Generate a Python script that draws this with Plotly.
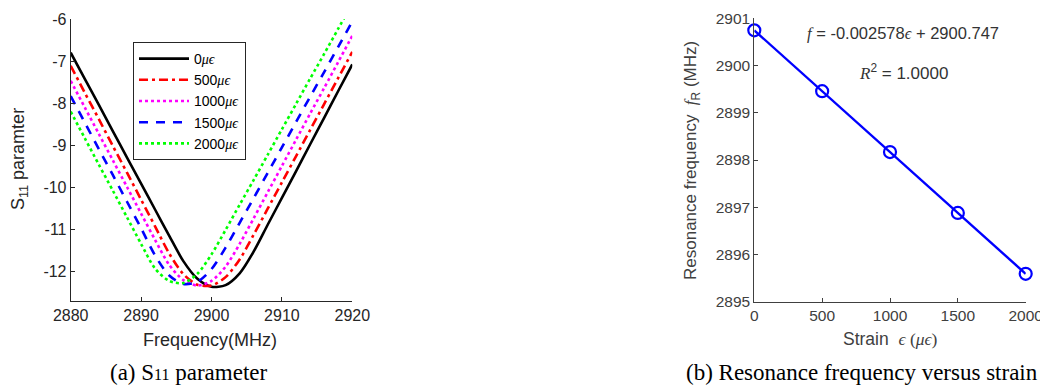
import plotly.graph_objects as go

# ---------------- data: (a) S11 curves ----------------
freq = [2880, 2882, 2884, 2886, 2888, 2890, 2892, 2894, 2896, 2898, 2900,
        2902, 2904, 2906, 2908, 2910, 2912, 2914, 2916, 2918, 2920]
s11_0 = [-6.80, -7.42, -8.04, -8.67, -9.29, -9.91, -10.53, -11.15, -11.75, -12.17, -12.36,
         -12.32, -12.04, -11.52, -10.88, -10.25, -9.62, -8.98, -8.35, -7.71, -7.08]
s11_500 = [-7.11, -7.75, -8.38, -9.02, -9.65, -10.29, -10.93, -11.57, -12.06, -12.31, -12.33,
           -12.13, -11.71, -11.12, -10.50, -9.88, -9.26, -8.64, -8.02, -7.40, -6.78]
s11_1000 = [-7.47, -8.10, -8.73, -9.36, -9.99, -10.62, -11.25, -11.84, -12.20, -12.33, -12.22,
            -11.88, -11.34, -10.73, -10.11, -9.49, -8.87, -8.25, -7.64, -7.02, -6.40]
s11_1500 = [-7.83, -8.46, -9.09, -9.71, -10.34, -10.97, -11.62, -12.09, -12.29, -12.24, -11.94,
            -11.43, -10.84, -10.25, -9.65, -9.05, -8.45, -7.85, -7.26, -6.66, -6.06]
s11_2000 = [-8.20, -8.83, -9.46, -10.08, -10.71, -11.34, -11.93, -12.22, -12.27, -12.05, -11.59,
            -11.01, -10.41, -9.82, -9.22, -8.62, -8.02, -7.42, -6.83, -6.23, -5.63]
series_names = ["0", "500", "1000", "1500", "2000"]

x1_ticks = [2880, 2890, 2900, 2910, 2920]
y1_ticks = [-6, -7, -8, -9, -10, -11, -12]
y1_ticktext = ["-6", "-7", "-8", "-9", "-10", "-11", "-12"]

# ---------------- data: (b) resonance vs strain ----------------
strain = [0, 500, 1000, 1500, 2000]
f_res = [2900.747, 2899.458, 2898.169, 2896.880, 2895.591]
x2_ticks = [0, 500, 1000, 1500, 2000]
y2_ticks = [2895, 2896, 2897, 2898, 2899, 2900, 2901]

# page body has an 8px default margin: the figure is placed at (8, 8)
OFF = 8
W, H = 1048 - OFF, 386 - OFF
def px(x):
    return (x - OFF) / W
def py(y):
    return 1 - (y - OFF) / H

SERIF = "Liberation Serif, DejaVu Serif, serif"
SANS = "Liberation Sans, Arial, sans-serif"
AX = "#262626"
AX2 = "#404040"

fig = go.Figure()

styles = [
    ("#000000", "solid"),
    ("#FF0000", "9px,4px,3px,4px"),
    ("#FF00FF", "dot"),
    ("#0000FF", "9px,8px"),
    ("#00FF00", "dot"),
]
all_s11 = [s11_0, s11_500, s11_1000, s11_1500, s11_2000]
for name, vals, (col, dash) in zip(series_names, all_s11, styles):
    fig.add_trace(go.Scatter(
        x=freq, y=vals, mode="lines",
        line=dict(color=col, width=2.6, dash=dash, shape="spline", smoothing=0.8),
        name=name + "<span style='font-family:" + SERIF + "'><i>μϵ</i></span>",
        xaxis="x", yaxis="y", showlegend=True))

fig.add_trace(go.Scatter(
    x=strain, y=f_res, mode="lines+markers",
    line=dict(color="#0000FF", width=2.4),
    marker=dict(symbol="circle-open", size=12, color="#0000FF", line=dict(width=2.2, color="#0000FF")),
    xaxis="x2", yaxis="y2", showlegend=False, cliponaxis=False))

fig.update_layout(
    width=W, height=H,
    margin=dict(l=0, r=0, t=0, b=0, autoexpand=False),
    paper_bgcolor="white", plot_bgcolor="white",
    font=dict(family=SANS, color=AX),
    showlegend=True,
    legend=dict(x=px(133), y=py(42), xanchor="left", yanchor="top",
                bgcolor="white", bordercolor=AX, borderwidth=1,
                font=dict(size=14, color="#000000", family=SANS),
                itemwidth=50, tracegroupgap=0),
    xaxis=dict(domain=[px(70.7), px(352.3)], range=[2880, 2920],
               tickvals=x1_ticks, ticks="inside", ticklen=4, tickcolor=AX,
               showline=True, linecolor=AX, linewidth=1, showgrid=False, zeroline=False,
               tickfont=dict(size=16, color=AX), anchor="y", automargin=False),
    yaxis=dict(domain=[py(300.7), py(19)], range=[-12.69, -6],
               tickvals=y1_ticks, ticktext=y1_ticktext, ticks="inside", ticklen=4, tickcolor=AX,
               showline=True, linecolor=AX, linewidth=1, showgrid=False, zeroline=False,
               tickfont=dict(size=16, color=AX), anchor="x", automargin=False),
    xaxis2=dict(domain=[px(754.3), px(1025.7)], range=[0, 2000],
                tickvals=x2_ticks, ticks="inside", ticklen=4, tickcolor=AX2,
                showline=True, linecolor=AX2, linewidth=1, showgrid=False, zeroline=False,
                tickfont=dict(size=15.5, color=AX2), anchor="y2", automargin=False),
    yaxis2=dict(domain=[py(301.7), py(18.4)], range=[2895, 2901],
                tickvals=y2_ticks, ticks="inside", ticklen=4, tickcolor=AX2,
                showline=True, linecolor=AX2, linewidth=1, showgrid=False, zeroline=False,
                tickfont=dict(size=15.5, color=AX2), anchor="x2", automargin=False),
)

ann = []
def add(text, x, y, size, color=AX, angle=0, family=SANS):
    ann.append(dict(text=text, x=px(x), y=py(y), xref="paper", yref="paper",
                    showarrow=False, xanchor="center", yanchor="middle",
                    textangle=angle, borderpad=0,
                    font=dict(size=size, color=color, family=family)))

add("Frequency(MHz)", 210, 340, 18)
add("S<sub>11</sub> paramter", 19, 159, 18, angle=-90)
add("Strain  <span style='font-family:" + SERIF + "'><i>ϵ</i> (<i>μϵ</i>)</span>", 890, 339, 17.5, color=AX2)
add("Resonance frequency  <span style='font-family:" + SERIF + "'><i>f</i></span><sub>R</sub> (MHz)",
    692, 161, 17, color=AX2, angle=-90)
add("<span style='font-family:" + SERIF + "'><i>f</i></span> = -0.002578<span style='font-family:" + SERIF + "'><i>ϵ</i></span> + 2900.747",
    903, 33, 16.5, color="#333333")
add("<span style='font-family:" + SERIF + "'><i>R</i></span><sup>2</sup> = 1.0000", 903, 72, 17, color="#333333")
add("(a) S<span style='font-size:16px'>11</span> parameter", 189, 372, 23, color="#000000", family=SERIF)
add("(b) Resonance frequency versus strain", 862, 372, 23, color="#000000", family=SERIF)
fig.update_layout(annotations=ann)

fig.write_html("out.html")
